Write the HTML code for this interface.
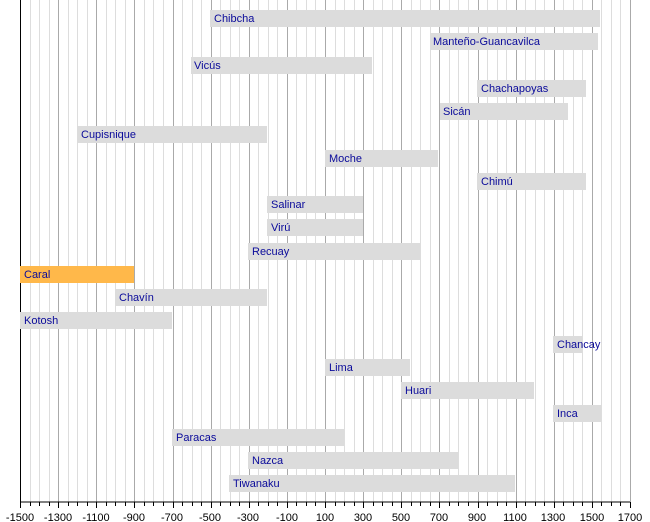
<!DOCTYPE html>
<html><head><meta charset="utf-8"><style>
html,body{margin:0;padding:0;background:#fff}
svg{display:block}
text{font-family:"Liberation Sans",Arial,sans-serif;font-size:11px}
.l{fill:#0a0a9a}
.a{fill:#000;font-size:11px}
</style></head><body>
<svg id="s" width="650" height="522" xmlns="http://www.w3.org/2000/svg">
<g id="grid"></g>
<g id="bars">
<rect x="210" y="10" width="390" height="17" fill="#dcdcdc"/><text class="l" x="214" y="22">Chibcha</text>
<rect x="430" y="33" width="168" height="17" fill="#dcdcdc"/><text class="l" x="433" y="45">Manteño-Guancavilca</text>
<rect x="191" y="57" width="181" height="17" fill="#dcdcdc"/><text class="l" x="194" y="69">Vicús</text>
<rect x="477" y="80" width="109" height="17" fill="#dcdcdc"/><text class="l" x="481" y="92">Chachapoyas</text>
<rect x="440" y="103" width="128" height="17" fill="#dcdcdc"/><text class="l" x="443" y="115">Sicán</text>
<rect x="77" y="126" width="190" height="17" fill="#dcdcdc"/><text class="l" x="81" y="138">Cupisnique</text>
<rect x="325" y="150" width="113" height="17" fill="#dcdcdc"/><text class="l" x="329" y="162">Moche</text>
<rect x="477" y="173" width="109" height="17" fill="#dcdcdc"/><text class="l" x="481" y="185">Chimú</text>
<rect x="267" y="196" width="96" height="17" fill="#dcdcdc"/><text class="l" x="271" y="208">Salinar</text>
<rect x="267" y="219" width="96" height="17" fill="#dcdcdc"/><text class="l" x="271" y="231">Virú</text>
<rect x="248" y="243" width="172" height="17" fill="#dcdcdc"/><text class="l" x="252" y="255">Recuay</text>
<rect x="20" y="266" width="114" height="17" fill="#ffb84a"/><text class="l" x="24" y="278">Caral</text>
<rect x="115" y="289" width="152" height="17" fill="#dcdcdc"/><text class="l" x="119" y="301">Chavín</text>
<rect x="20" y="312" width="152" height="17" fill="#dcdcdc"/><text class="l" x="24" y="324">Kotosh</text>
<rect x="553" y="336" width="29" height="17" fill="#dcdcdc"/><text class="l" x="557" y="348">Chancay</text>
<rect x="325" y="359" width="85" height="17" fill="#dcdcdc"/><text class="l" x="329" y="371">Lima</text>
<rect x="401" y="382" width="133" height="17" fill="#dcdcdc"/><text class="l" x="405" y="394">Huari</text>
<rect x="553" y="405" width="48" height="17" fill="#dcdcdc"/><text class="l" x="557" y="417">Inca</text>
<rect x="172" y="429" width="172" height="17" fill="#dcdcdc"/><text class="l" x="176" y="441">Paracas</text>
<rect x="248" y="452" width="210" height="17" fill="#dcdcdc"/><text class="l" x="252" y="464">Nazca</text>
<rect x="229" y="475" width="286" height="17" fill="#dcdcdc"/><text class="l" x="233" y="487">Tiwanaku</text>
</g>
<line x1="20" y1="502" x2="630" y2="502" stroke="#000" stroke-width="1"/>
<g id="ticks"></g>
<g text-anchor="middle">
<text class="a" x="20" y="521">-1500</text><text class="a" x="58" y="521">-1300</text><text class="a" x="96" y="521">-1100</text><text class="a" x="134" y="521">-900</text><text class="a" x="172" y="521">-700</text><text class="a" x="210" y="521">-500</text><text class="a" x="248" y="521">-300</text><text class="a" x="287" y="521">-100</text><text class="a" x="325" y="521">100</text><text class="a" x="363" y="521">300</text><text class="a" x="401" y="521">500</text><text class="a" x="439" y="521">700</text><text class="a" x="477" y="521">900</text><text class="a" x="515" y="521">1100</text><text class="a" x="553" y="521">1300</text><text class="a" x="592" y="521">1500</text><text class="a" x="630" y="521">1700</text>
</g>
</svg>
<script>
var g=document.getElementById('grid'),t=document.getElementById('ticks'),ns='http://www.w3.org/2000/svg';
for(var v=-1500;v<=1700;v+=50){var x=Math.round(20+(v+1500)*610/3200)+0.5;
var l=document.createElementNS(ns,'line');l.setAttribute('x1',x);l.setAttribute('x2',x);l.setAttribute('y1',0);l.setAttribute('y2',502);
var major=((v+1500)%200==0);l.setAttribute('stroke',v==-1500?'#000':(major?'#aaa':'#ddd'));l.setAttribute('stroke-width',1);g.appendChild(l);
var k=document.createElementNS(ns,'line');k.setAttribute('x1',x);k.setAttribute('x2',x);k.setAttribute('y1',502);k.setAttribute('y2',major?508:506);k.setAttribute('stroke','#000');t.appendChild(k);}
</script>
</body></html>
